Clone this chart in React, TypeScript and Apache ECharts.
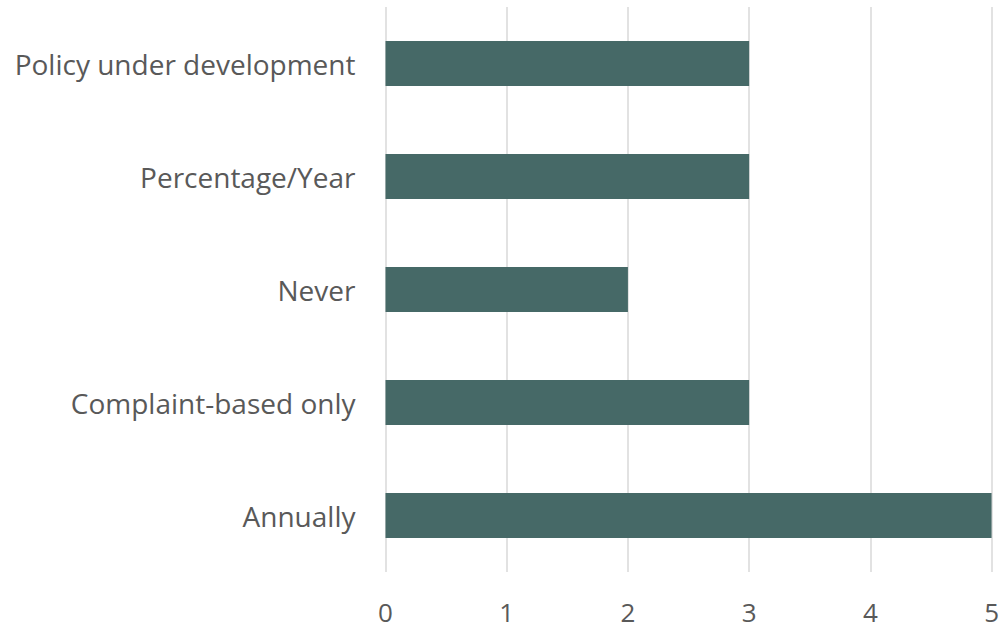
import React, { useEffect, useRef } from "react";
import * as echarts from "echarts";

const categories = ["Annually", "Complaint-based only", "Never", "Percentage/Year", "Policy under development"];
const values = [5, 3, 2, 3, 3];
const xTicks = [0, 1, 2, 3, 4, 5];

export default function App() {
  const ref = useRef<HTMLDivElement>(null);
  useEffect(() => {
    if (!ref.current) return;
    const chart = echarts.init(ref.current, null, { renderer: "svg" });
    chart.setOption({
      animation: false,
      backgroundColor: "#ffffff",
      grid: { left: 385.5, right: 6.5, top: 7, bottom: 57, containLabel: false },
      xAxis: {
        type: "value",
        min: xTicks[0],
        max: xTicks[xTicks.length - 1],
        interval: 1,
        axisLine: { show: false },
        axisTick: { show: false },
        splitLine: { show: true, lineStyle: { color: "#d9d9d9", width: 1.5 } },
        axisLabel: { color: "#595959", fontSize: 26, lineHeight: 28, fontFamily: "Open Sans", margin: 26 },
      },
      yAxis: {
        type: "category",
        data: categories,
        axisLine: { show: false },
        axisTick: { show: false },
        axisLabel: { color: "#595959", fontSize: 28, fontFamily: "Open Sans", margin: 30 },
      },
      series: [
        {
          type: "bar",
          data: values,
          barWidth: 45,
          itemStyle: { color: "#466967" },
        },
      ],
    });
    return () => chart.dispose();
  }, []);
  return <div ref={ref} style={{ position: "fixed", left: 0, top: 0, width: 1002, height: 629 }} />;
}
